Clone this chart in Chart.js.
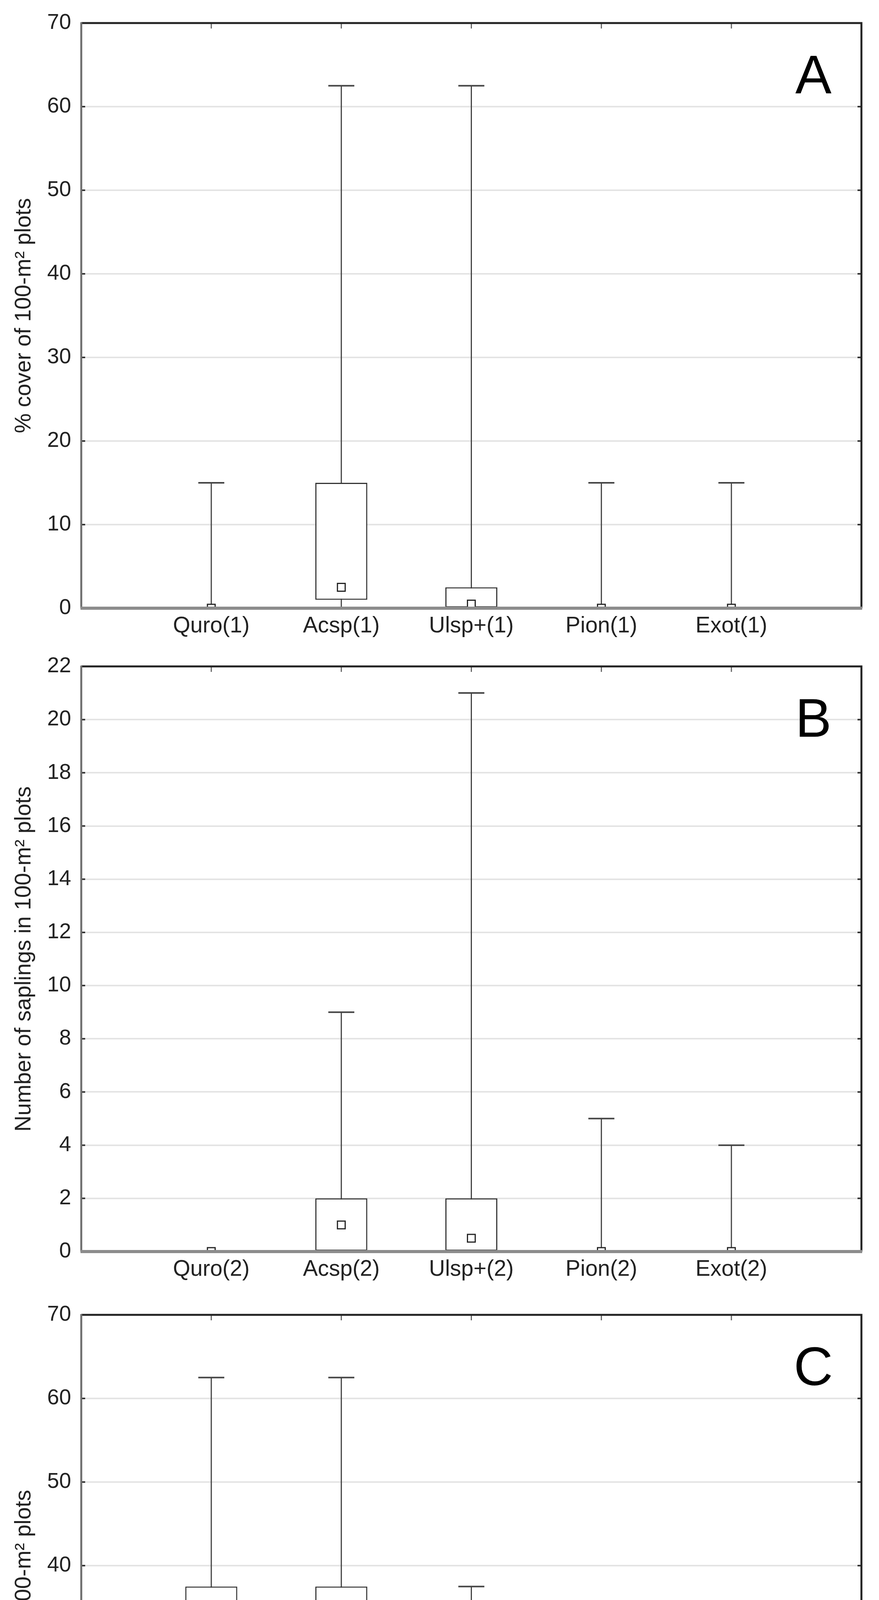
<!DOCTYPE html>
<html>
<head>
<meta charset="utf-8">
<script src="https://cdn.jsdelivr.net/npm/chart.js@4.4.1/dist/chart.umd.min.js"></script>
<style>
  html, body { margin: 0; padding: 0; background: #fff; }
  canvas { position: absolute; left: 0; }
</style>
</head>
<body>
<canvas id="chart-a" width="2250" height="1650" style="top:0px"></canvas>
<canvas id="chart-b" width="2250" height="1650" style="top:1647px"></canvas>
<canvas id="chart-c" width="2250" height="1650" style="top:3307px"></canvas>
<script>
// panel A: % cover, group (1)
const CATS_A = ['Quro(1)', 'Acsp(1)', 'Ulsp+(1)', 'Pion(1)', 'Exot(1)'];
const MIN_A = [0, 0, 0, 0, 0];
const Q1_A = [0, 1, 0, 0, 0];
const MED_A = [0, 2.5, 0.5, 0, 0];
const Q3_A = [0, 15, 2.5, 0, 0];
const MAX_A = [15, 62.5, 62.5, 15, 15];
const YTICKS_A = [0, 10, 20, 30, 40, 50, 60, 70];

// panel B: saplings, group (2)
const CATS_B = ['Quro(2)', 'Acsp(2)', 'Ulsp+(2)', 'Pion(2)', 'Exot(2)'];
const MIN_B = [0, 0, 0, 0, 0];
const Q1_B = [0, 0, 0, 0, 0];
const MED_B = [0, 1, 0.5, 0, 0];
const Q3_B = [0, 2, 2, 0, 0];
const MAX_B = [0, 9, 21, 5, 4];
const YTICKS_B = [0, 2, 4, 6, 8, 10, 12, 14, 16, 18, 20, 22];

// panel C: % cover by species
const CATS_C = ['Paav', 'Sani', 'Coav', 'Eueu', 'Other'];
const MIN_C = [0, 0, 0, 0, 0];
const Q1_C = [2.5, 2.5, 0, 0, 0];
const MED_C = [15, 15, 0, 0, 0];
const Q3_C = [37.5, 37.5, 2.5, 0, 0];
const MAX_C = [62.5, 62.5, 37.5, 15, 2.5];
const YTICKS_C = [0, 10, 20, 30, 40, 50, 60, 70];

const FONT = '"Liberation Sans", Arial, sans-serif';

Chart.defaults.font.family = FONT;
Chart.defaults.color = '#222';

const framePlugin = {
  id: 'frame',
  afterDatasetsDraw(chart, args, opts) {
    const { ctx, chartArea: a, scales } = chart;
    const x = scales.x, y = scales.y;
    ctx.save();
    ctx.lineCap = 'butt';
    // small inward tick marks
    ctx.strokeStyle = '#333';
    ctx.lineWidth = 4;
    y.ticks.forEach(t => {
      const py = y.getPixelForValue(t.value);
      ctx.beginPath();
      ctx.moveTo(a.left, py); ctx.lineTo(a.left + 10, py);
      ctx.moveTo(a.right, py); ctx.lineTo(a.right - 10, py);
      ctx.stroke();
    });
    ctx.strokeStyle = '#666';
    ctx.lineWidth = 3;
    x.ticks.forEach(t => {
      const px = x.getPixelForValue(t.value);
      ctx.beginPath();
      ctx.moveTo(px, a.top); ctx.lineTo(px, a.top + 14);
      ctx.stroke();
    });
    // frame
    ctx.strokeStyle = '#222';
    ctx.lineWidth = 5;
    ctx.beginPath();
    ctx.moveTo(a.left, a.top); ctx.lineTo(a.right, a.top); ctx.lineTo(a.right, a.bottom);
    ctx.stroke();
    ctx.strokeStyle = '#6e6e6e';
    ctx.beginPath();
    ctx.moveTo(a.left, a.top - 2); ctx.lineTo(a.left, a.bottom);
    ctx.stroke();
    ctx.strokeStyle = '#8c8c8c';
    ctx.lineWidth = 8;
    ctx.beginPath();
    ctx.moveTo(a.left - 2, a.bottom); ctx.lineTo(a.right + 2, a.bottom);
    ctx.stroke();
    // panel letter
    ctx.fillStyle = '#000';
    ctx.font = '139px ' + FONT;
    ctx.textAlign = 'center';
    ctx.textBaseline = 'alphabetic';
    ctx.fillText(opts.letter, a.right - 123, a.top + 180);
    ctx.restore();
  }
};

function makePanel(id, cats, mins, q1s, meds, q3s, maxs, yTicks, yTitle, letter) {
  const medPts = meds.map((v, i) => ({ x: i + 1, y: v }));
  const boxes = q1s.map((v, i) => ({ x: i + 1, y: [v, q3s[i]] }));
  const whiskers = [];
  const caps = [];
  cats.forEach((_, i) => {
    const c = i + 1;
    whiskers.push({ x: c, y: mins[i] }, { x: c, y: maxs[i] }, { x: c, y: null });
    caps.push({ x: c - 0.1, y: maxs[i] }, { x: c + 0.1, y: maxs[i] }, { x: c, y: null });
    caps.push({ x: c - 0.1, y: mins[i] }, { x: c + 0.1, y: mins[i] }, { x: c, y: null });
  });

  const ctx = document.getElementById(id).getContext('2d');
  return new Chart(ctx, {
    type: 'line',
    data: {
      datasets: [
        {
          type: 'line',
          label: 'median',
          data: medPts,
          showLine: false,
          pointStyle: 'rect',
          pointRadius: 14,
          pointBorderWidth: 3,
          pointBorderColor: '#222',
          pointBackgroundColor: '#fff',
        },
        {
          type: 'bar',
          label: 'box',
          data: boxes,
          backgroundColor: '#fff',
          borderColor: '#333',
          borderWidth: 3,
          borderSkipped: false,
          barPercentage: 0.4,
          categoryPercentage: 1,
        },
        {
          type: 'line',
          label: 'caps',
          data: caps,
          borderColor: '#444',
          borderWidth: 4,
          pointRadius: 0,
          spanGaps: false,
          tension: 0,
        },
        {
          type: 'line',
          label: 'whiskers',
          data: whiskers,
          borderColor: '#444',
          borderWidth: 3,
          pointRadius: 0,
          spanGaps: false,
          tension: 0,
        },
      ],
    },
    options: {
      responsive: false,
      devicePixelRatio: 1,
      animation: false,
      events: [],
      layout: { padding: { top: 45, right: 45, left: 0, bottom: 0 } },
      plugins: {
        legend: { display: false },
        tooltip: { enabled: false },
        frame: { letter },
      },
      scales: {
        x: {
          type: 'linear',
          min: 0,
          max: cats.length + 1,
          offset: false,
          afterBuildTicks: s => { s.ticks = cats.map((_, i) => ({ value: i + 1 })); },
          afterFit: s => { s.height = 93; },
          grid: { display: false, drawTicks: false },
          border: { display: false },
          ticks: {
            autoSkip: false,
            maxRotation: 0,
            padding: 12,
            color: '#222',
            font: { size: 57 },
            callback: v => cats[v - 1] || '',
          },
        },
        y: {
          type: 'linear',
          min: yTicks[0],
          max: yTicks[yTicks.length - 1],
          afterBuildTicks: s => { s.ticks = yTicks.map(v => ({ value: v })); },
          afterFit: s => { s.width = 208; },
          grid: { color: '#e4e4e4', lineWidth: 4, drawTicks: false },
          border: { display: false },
          ticks: { padding: 26, color: '#222', font: { size: 55 } },
          title: {
            display: true,
            text: yTitle,
            color: '#222',
            font: { size: 57 },
            padding: { top: 28, bottom: 0 },
          },
        },
      },
    },
    plugins: [framePlugin],
  });
}

makePanel('chart-a', CATS_A, MIN_A, Q1_A, MED_A, Q3_A, MAX_A, YTICKS_A,
  '% cover of 100-m\u00B2 plots', 'A');
makePanel('chart-b', CATS_B, MIN_B, Q1_B, MED_B, Q3_B, MAX_B, YTICKS_B,
  'Number of saplings in 100-m\u00B2 plots', 'B');
makePanel('chart-c', CATS_C, MIN_C, Q1_C, MED_C, Q3_C, MAX_C, YTICKS_C,
  '% cover of 100-m\u00B2 plots', 'C');
</script>
</body>
</html>
